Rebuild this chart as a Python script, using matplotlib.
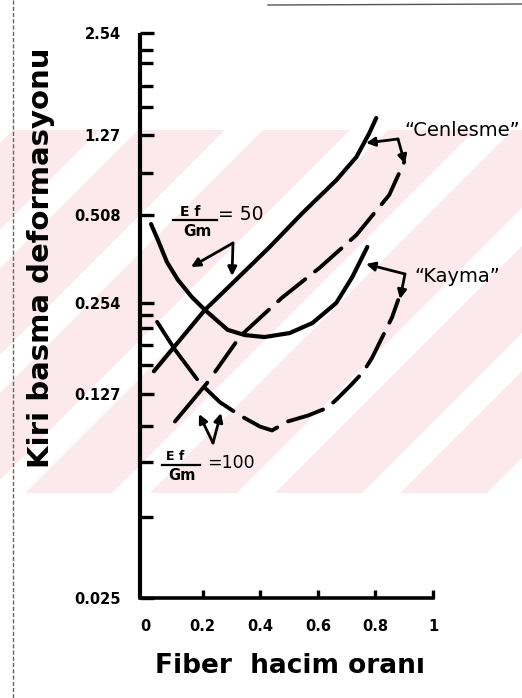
import numpy as np
import matplotlib
matplotlib.use("Agg")
import matplotlib.pyplot as plt
from matplotlib.ticker import FixedLocator, FixedFormatter, NullFormatter
from matplotlib.patches import Polygon, Rectangle

# ---------------- data ----------------
# Ef/Gm = 50, "Cenlesme" (extension) - solid straight line
fiber_gen50 = [0.031, 0.208, 0.319, 0.433, 0.547, 0.665, 0.734, 0.779, 0.803]
defo_gen50 = [0.151, 0.241, 0.307, 0.395, 0.520, 0.759, 0.987, 1.287, 1.425]

# Ef/Gm = 50, "Kayma" (shear) - solid U curve
fiber_kay50 = [0.021, 0.045, 0.076, 0.114, 0.163, 0.208, 0.287, 0.346, 0.415,
               0.502, 0.581, 0.664, 0.720, 0.772]
defo_kay50 = [0.473, 0.417, 0.351, 0.305, 0.266, 0.241, 0.207, 0.199, 0.196,
              0.202, 0.218, 0.254, 0.312, 0.395]

# Ef/Gm = 100, "Cenlesme" - dashed line
fiber_gen100 = [0.104, 0.218, 0.332, 0.474, 0.606, 0.734, 0.848, 0.900]
defo_gen100 = [0.102, 0.139, 0.198, 0.264, 0.335, 0.434, 0.639, 0.932]

# Ef/Gm = 100, "Kayma" - dashed U curve
fiber_kay100 = [0.042, 0.104, 0.191, 0.260, 0.330, 0.399, 0.441, 0.495, 0.566,
                0.635, 0.670, 0.712, 0.757, 0.788, 0.823, 0.858, 0.879]
defo_kay100 = [0.220, 0.178, 0.138, 0.119, 0.107, 0.098, 0.095, 0.102, 0.107,
               0.114, 0.123, 0.135, 0.150, 0.167, 0.195, 0.228, 0.260]

y_tick_values = [0.025, 0.127, 0.254, 0.508, 1.27, 2.54]
y_tick_labels = ["0.025", "0.127", "0.254", "0.508", "1.27", "2.54"]
x_tick_values = [0, 0.2, 0.4, 0.6, 0.8, 1.0]
x_tick_labels = ["0", "0.2", "0.4", "0.6", "0.8", "1"]

# ---------------- hand-drawn y scale (styling) ----------------
W, H = 522, 698
AX_LEFT, AX_RIGHT, AX_TOP, AX_BOTTOM = 140, 433, 32.7, 598
AX_H = AX_BOTTOM - AX_TOP
# pixel rows (from top) where the hand-drawn labelled ticks sit
tick_rows = [598, 394, 303, 215, 135, 32.7]
LOGS = np.log10(np.array(y_tick_values))
POS = (AX_BOTTOM - np.array(tick_rows)) / AX_H
S0 = (POS[1] - POS[0]) / (LOGS[1] - LOGS[0])
S1 = (POS[-1] - POS[-2]) / (LOGS[-1] - LOGS[-2])


def fwd(v):
    v = np.asarray(v, dtype=float)
    lv = np.log10(np.clip(v, 1e-12, None))
    out = np.interp(lv, LOGS, POS)
    out = np.where(lv < LOGS[0], POS[0] + (lv - LOGS[0]) * S0, out)
    out = np.where(lv > LOGS[-1], POS[-1] + (lv - LOGS[-1]) * S1, out)
    return out


def inv(p):
    p = np.asarray(p, dtype=float)
    out = np.interp(p, POS, LOGS)
    out = np.where(p < POS[0], LOGS[0] + (p - POS[0]) / S0, out)
    out = np.where(p > POS[-1], LOGS[-1] + (p - POS[-1]) / S1, out)
    return 10 ** out


minor_rows = [50, 63, 86, 107, 173, 315, 328, 345, 365, 426, 462, 517]

# ---------------- figure ----------------
fig = plt.figure(figsize=(W / 100, H / 100), dpi=100)
fig.patch.set_facecolor("white")

# background (scan watermark) in pixel coordinates
ax_bg = fig.add_axes([0, 0, 1, 1], zorder=0)
ax_bg.set_xlim(0, W)
ax_bg.set_ylim(H, 0)
ax_bg.axis("off")
pink = "#fce9ed"
y0, y1 = 130, 493
ax_bg.add_patch(Rectangle((0, y0), W, y1 - y0, facecolor=pink, edgecolor="none"))
for c in range(105, 1100, 125):
    wdt = 38
    poly = [(c - y0, y0), (c + wdt - y0, y0), (c + wdt - y1, y1), (c - y1, y1)]
    ax_bg.add_patch(Polygon(poly, closed=True, facecolor="white", edgecolor="none"))
# scan edge artefacts
ax_bg.plot([13, 13], [0, H], color="#666666", lw=1.0, ls=(0, (3, 1.5)))
ax_bg.plot([268, W], [5, 4], color="#555555", lw=1.0)

# main axes
ax = fig.add_axes([AX_LEFT / W, 1 - AX_BOTTOM / H,
                   (AX_RIGHT - AX_LEFT) / W, AX_H / H], zorder=2)
ax.patch.set_alpha(0)
ax.set_yscale("function", functions=(fwd, inv))
ax.set_ylim(0.025, 2.54)
x_left = -(145 - AX_LEFT) / 288.0
ax.set_xlim(x_left, 1.0)

lw_solid = 3.0
lw_dash = 2.8
ax.plot(fiber_gen50, defo_gen50, color="black", lw=lw_solid,
        solid_capstyle="round", solid_joinstyle="round")
ax.plot(fiber_kay50, defo_kay50, color="black", lw=lw_solid,
        solid_capstyle="round", solid_joinstyle="round")
dash_pat = (0, (13, 3.5) + (9.0, 3.2) * 8)
ax.plot(fiber_gen100, defo_gen100, color="black", lw=lw_dash,
        ls=dash_pat, dash_capstyle="round")
dash_pat2 = (0, (18, 3.0) + (9.5, 3.2) * 8)
ax.plot(fiber_kay100, defo_kay100, color="black", lw=lw_dash,
        ls=dash_pat2, dash_capstyle="round")

for s in ["top", "right"]:
    ax.spines[s].set_visible(False)
ax.spines["left"].set_linewidth(3.0)
ax.spines["bottom"].set_linewidth(2.6)
ax.spines["left"].set_capstyle("butt")

tick_font = dict(family="DejaVu Sans", size=10.5, weight="bold")
ax.yaxis.set_major_locator(FixedLocator(y_tick_values))
ax.yaxis.set_major_formatter(FixedFormatter(y_tick_labels))
minor_vals = inv((AX_BOTTOM - np.array(minor_rows)) / AX_H)
ax.yaxis.set_minor_locator(FixedLocator(list(minor_vals)))
ax.yaxis.set_minor_formatter(NullFormatter())
ax.tick_params(axis="y", which="major", direction="in", length=10, width=2.4,
               pad=14, labelsize=10.5)
ax.tick_params(axis="y", which="minor", direction="in", length=9, width=2.4)
ax.set_xticks(x_tick_values)
ax.set_xticklabels(x_tick_labels)
ax.tick_params(axis="x", which="major", direction="in", length=6, width=2.4,
               pad=15, labelsize=10.5)
ax.xaxis.set_minor_locator(FixedLocator([]))
ax.xaxis.get_major_ticks()[0].tick1line.set_visible(False)
for lab in ax.get_yticklabels() + ax.get_xticklabels():
    lab.set_fontweight("bold")

# overlay for annotations, in pixel coordinates
ov = fig.add_axes([0, 0, 1, 1], zorder=5)
ov.set_xlim(0, W)
ov.set_ylim(H, 0)
ov.axis("off")
ov.patch.set_alpha(0)

ov.text(41, 258, "Kiri basma deformasyonu", rotation=90, ha="center",
        va="center", fontsize=21, fontweight="bold", color="black")
ov.text(290, 666, "Fiber  hacim oranı", ha="center", va="center",
        fontsize=19, fontweight="bold", color="black")

# Ef/Gm = 50 label
ov.text(190, 212, "E f", ha="center", va="center", fontsize=10, fontweight="bold")
ov.plot([173, 217], [219.5, 219.5], color="black", lw=1.6)
ov.text(197, 232, "Gm", ha="center", va="center", fontsize=11, fontweight="bold")
ov.text(218, 215, "= 50", ha="left", va="center", fontsize=13.5)
# Ef/Gm = 100 label
ov.text(175, 456, "E f", ha="center", va="center", fontsize=9, fontweight="bold")
ov.plot([162, 200], [464.5, 464.5], color="black", lw=1.6)
ov.text(182, 475, "Gm", ha="center", va="center", fontsize=10.5, fontweight="bold")
ov.text(207, 463, "=100", ha="left", va="center", fontsize=12.5)

ov.text(404, 131, "\u201cCenlesme\u201d", ha="left", va="center", fontsize=14)
ov.text(414, 277, "\u201cKayma\u201d", ha="left", va="center", fontsize=14)

ap = dict(arrowstyle="-|>", color="black", lw=2.0, mutation_scale=13,
          shrinkA=0, shrinkB=0)


def bent(vertex, tips):
    for t in tips:
        ov.annotate("", xy=t, xytext=vertex, arrowprops=ap)


bent((398, 139), [(366, 143), (405, 164)])
bent((405, 274), [(366, 264), (400, 299)])
bent((233, 243), [(191, 267), (232, 276)])
bent((213, 443), [(199, 414), (221, 413)])

fig.savefig("out.png", dpi=100)
